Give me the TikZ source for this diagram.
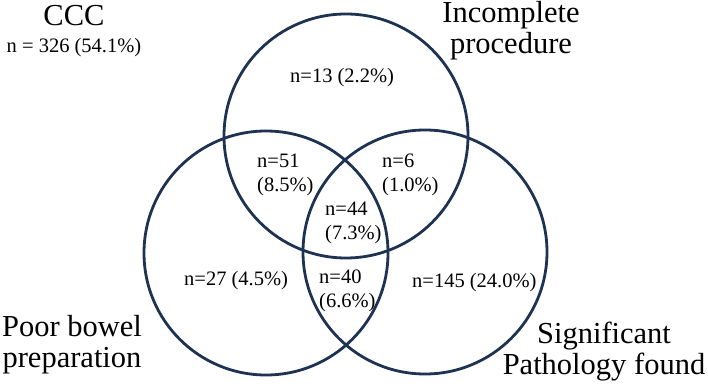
\documentclass[tikz,border=0pt]{standalone}
\usepackage{fontspec}
\setmainfont{Liberation Serif}
\definecolor{vennline}{RGB}{30,50,82}
\newcommand{\twoleft}[2]{\begin{tabular}[t]{@{}l@{}}#1\\#2\end{tabular}}
\newcommand{\twocenter}[2]{\begin{tabular}[t]{@{}c@{}}#1\\#2\end{tabular}}
\begin{document}
\begin{tikzpicture}[x=1pt,y=-1pt,
  venn/.style={circle,draw=vennline,line width=2.8pt,minimum size=244pt,inner sep=0pt},
  biglab/.style={font=\fontsize{30.5}{31}\selectfont,inner sep=0pt,anchor=base},
  smalllab/.style={font=\fontsize{20.5}{24}\selectfont,inner sep=0pt,anchor=base west}]
\useasboundingbox (0,0) rectangle (708,387);
\node[venn] (top) at (346,136) {};
\node[venn] (left) at (266,253) {};
\node[venn] (right) at (425,252) {};
% category labels
\node[biglab] (ccc) at (74,26) {CCC};
\node[font=\fontsize{20.5}{24}\selectfont,inner sep=0pt,anchor=base] (ccccount) at (74,53) {n = 326 (54.1\%)};
\node[biglab] (inc) at (511,23) {\twocenter{Incomplete}{procedure}};
\node[biglab] (poor) at (72,336) {\twocenter{Poor bowel}{preparation}};
\node[biglab] (sig) at (604,343) {\twocenter{Significant}{Pathology found}};
% counts
\node[smalllab] (n13) at (290,83) {n=13 (2.2\%)};
\node[smalllab] (n51) at (257,168) {\twoleft{n=51}{(8.5\%)}};
\node[smalllab] (n6) at (382,168) {\twoleft{n=6}{(1.0\%)}};
\node[smalllab] (n44) at (325,215) {\twoleft{n=44}{(7.3\%)}};
\node[smalllab] (n27) at (184,285) {n=27 (4.5\%)};
\node[smalllab] (n40) at (319,283) {\twoleft{n=40}{(6.6\%)}};
\node[smalllab] (n145) at (412,287) {n=145 (24.0\%)};
\end{tikzpicture}
\end{document}
